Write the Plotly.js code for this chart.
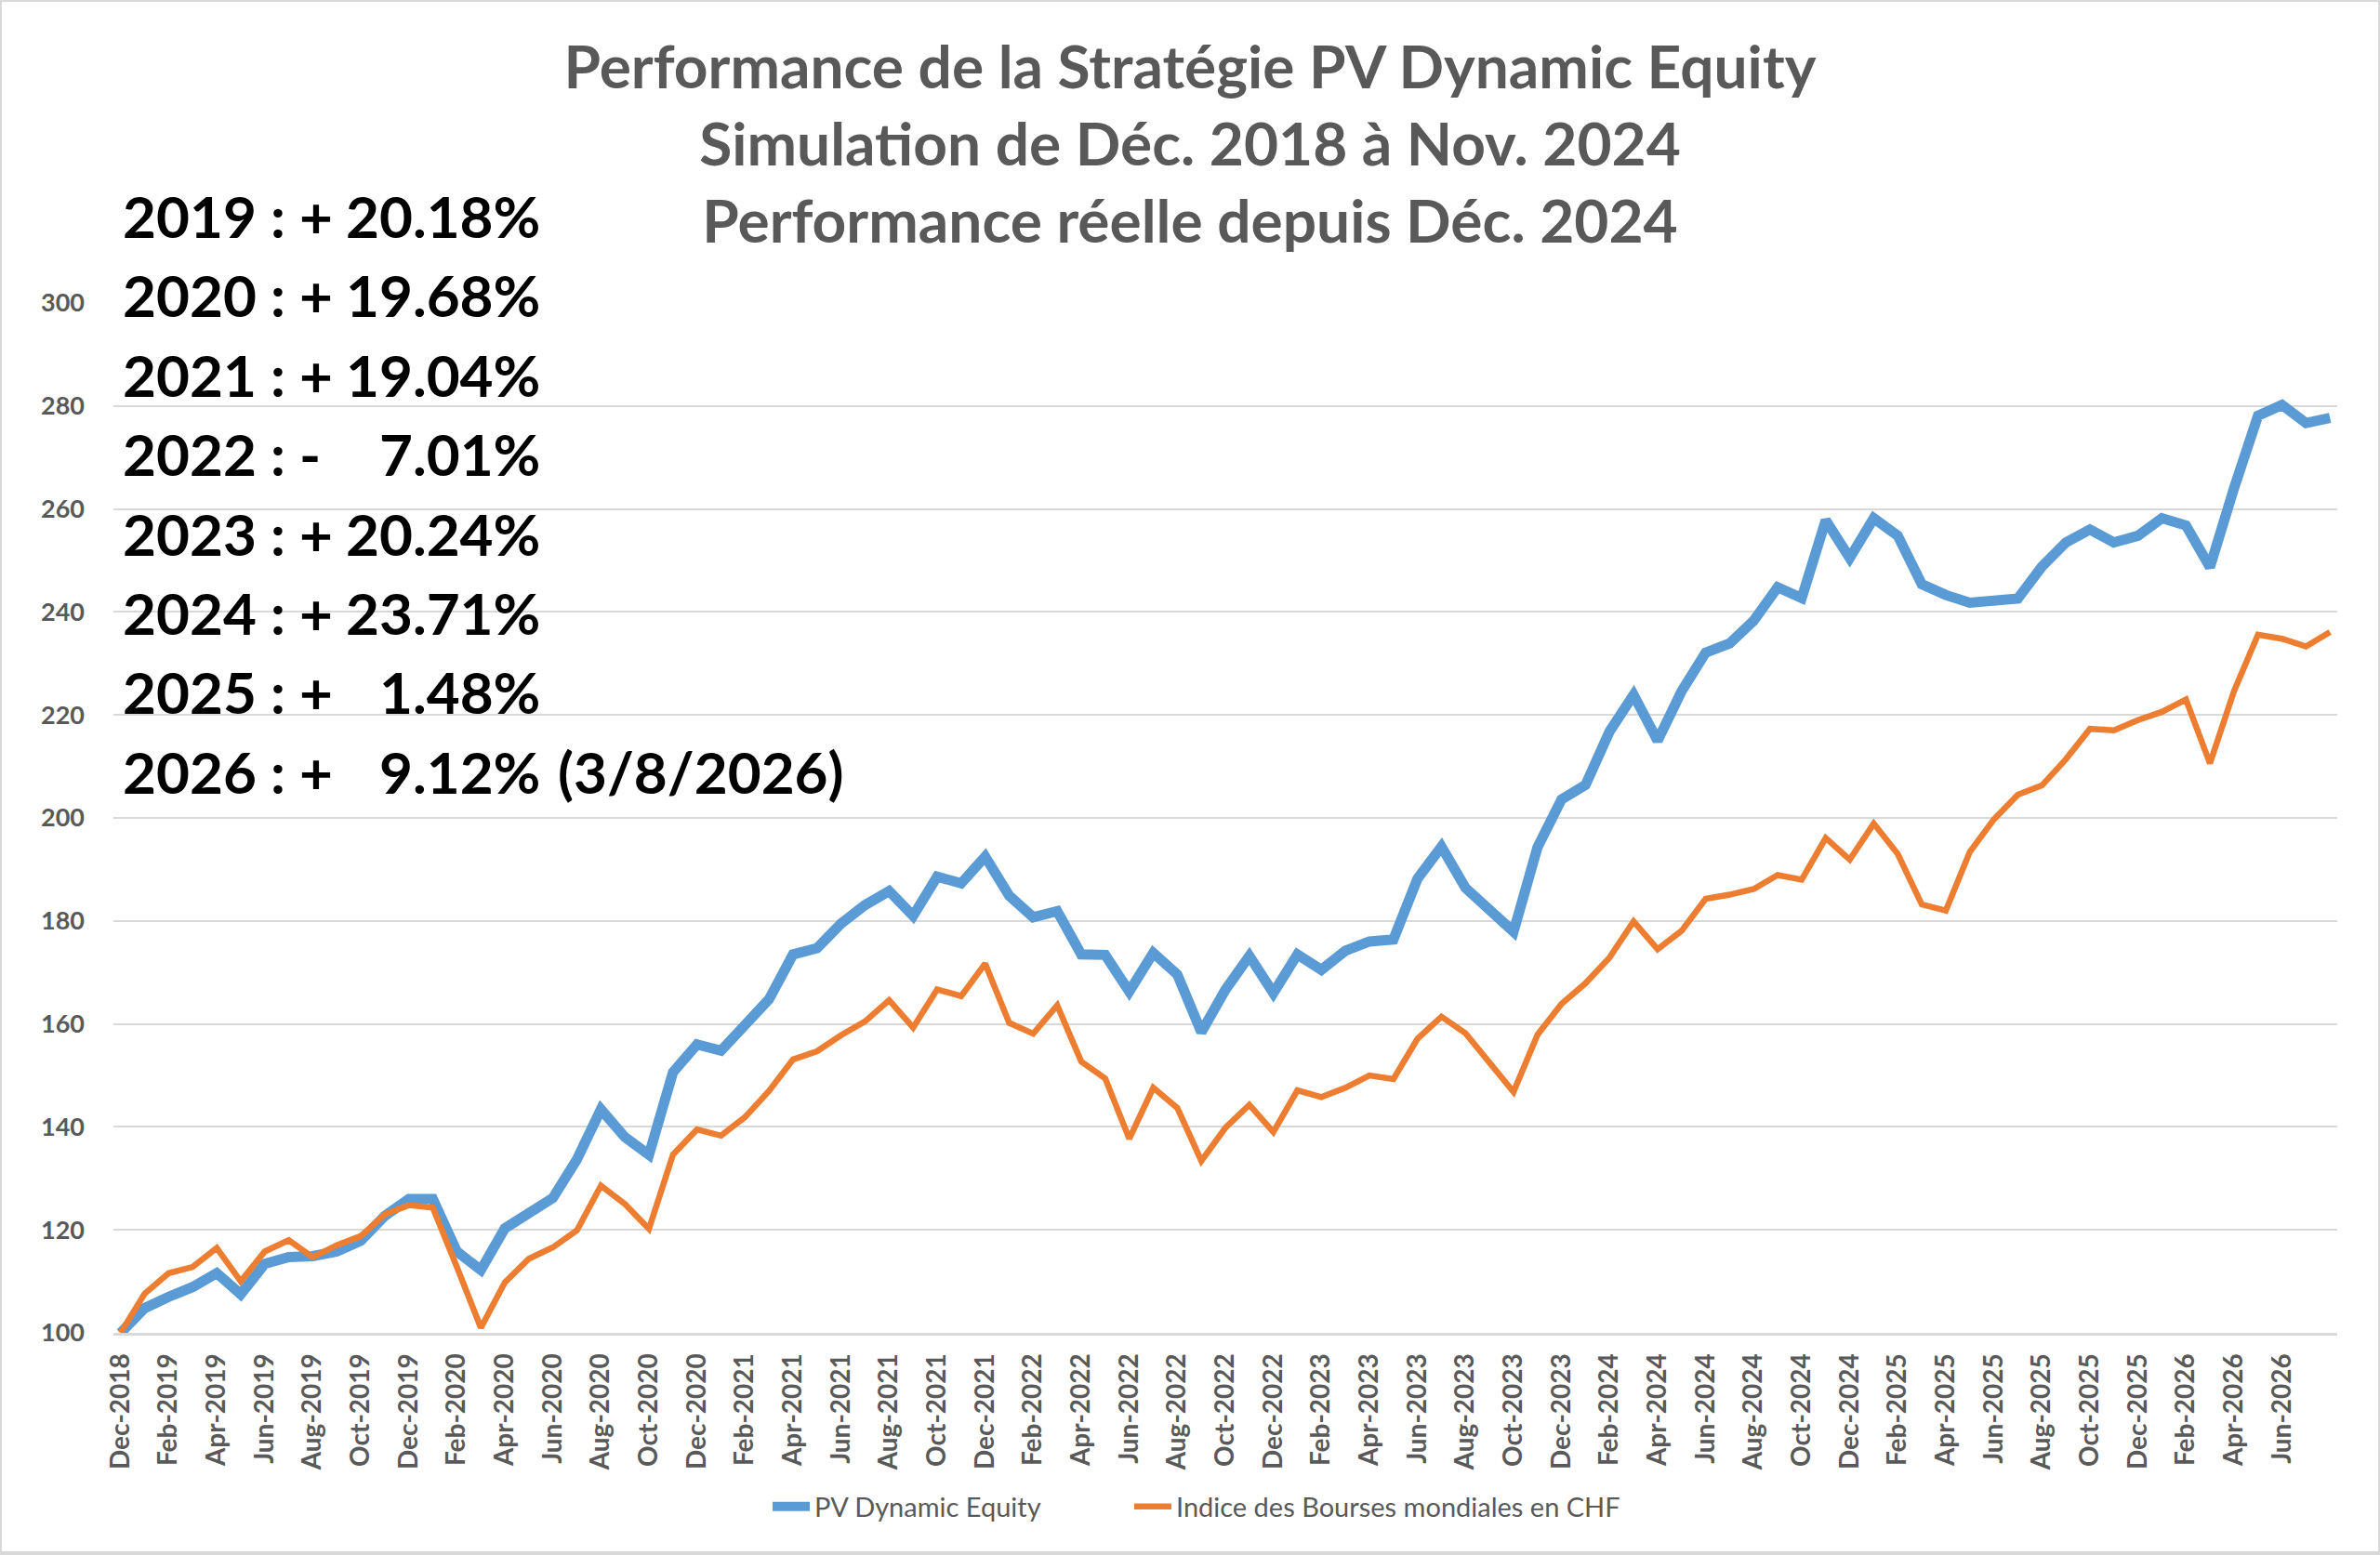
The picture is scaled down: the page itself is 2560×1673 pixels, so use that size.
<!DOCTYPE html>
<html>
<head>
<meta charset="utf-8">
<script src="https://cdn.plot.ly/plotly-3.0.1.min.js"></script>
<style>
  html, body { margin: 0; padding: 0; background: #fff; }
  #wrap { position: relative; width: 2560px; height: 1673px; }
  #chart { width: 2560px; height: 1673px; }
  #frame { position: absolute; left: 0; top: 0; width: 2560px; height: 1673px;
           box-sizing: border-box; border: 2px solid #d9d9d9; border-bottom-width: 4px;
           pointer-events: none; }
</style>
</head>
<body>
<div id="wrap">
  <div id="chart"></div>
  <div id="frame"></div>
</div>
<script>
// monthly values, Dec-2018 .. Aug-2026 (base 100)
var pvEquity = [
  100, 104.8, 107, 108.9, 111.6, 107.5, 113.4, 114.7, 114.9, 115.8, 117.9, 122.7,
  126, 126, 115.8, 112.2, 120.3, 123, 126.2, 133.7, 143.4, 138, 134.6, 150.6,
  156, 154.8, 159.6, 164.8, 173.5, 174.7, 179.5, 183.1, 185.8, 181, 188.6, 187.3,
  192.5, 184.9, 180.7, 181.9, 173.5, 173.4, 166.3, 173.8, 169.6, 158.4, 166.6, 173.2,
  166, 173.5, 170.5, 174.2, 176, 176.4, 188.2, 194.4, 186.4, 182.1, 177.9, 194.3,
  203.6, 206.4, 216.8, 223.9, 215, 224.6, 232.1, 233.9, 238.3, 244.8, 242.7, 257.8,
  250.5, 258.2, 254.8, 245.4, 243.3, 241.8, 242.4, 242.6, 248.8, 253.5, 256, 253.5,
  254.8, 258.2, 256.8, 248.7, 264, 278.1, 280.2, 276.7, 277.7
];
var worldIndex = [
  100, 107.6, 111.6, 112.8, 116.5, 110, 115.8, 118, 114.7, 117, 118.8, 123,
  124.8, 124.3, 112.8, 101, 109.8, 114.4, 116.6, 119.9, 128.6, 125, 120.2, 134.6,
  139.5, 138.3, 141.9, 147, 153.1, 154.7, 157.8, 160.5, 164.6, 159.3, 166.7, 165.4,
  171.7, 160.2, 158.1, 163.6, 152.7, 149.4, 137.7, 147.6, 143.7, 133.4, 139.8, 144.3,
  139, 147.1, 145.8, 147.6, 150, 149.3, 157.1, 161.4, 158.2, 152.5, 146.8, 157.9,
  163.9, 167.9, 172.9, 179.9, 174.5, 178.1, 184.3, 185.1, 186.2, 188.9, 188, 196.1,
  191.9, 198.9, 193, 183.2, 182, 193.4, 199.7, 204.5, 206.3, 211.4, 217.3, 217,
  219, 220.6, 223, 210.6, 224.6, 235.6, 234.8, 233.3, 236.1
];

var seriesNames = ['PV Dynamic Equity', 'Indice des Bourses mondiales en CHF'];
var monthNames = ['Jan','Feb','Mar','Apr','May','Jun','Jul','Aug','Sep','Oct','Nov','Dec'];

// annual performance box
var perfYears  = ['2019', '2020', '2021', '2022', '2023', '2024', '2025', '2026'];
var perfSigns  = ['+', '+', '+', '-', '+', '+', '+', '+'];
var perfValues = ['20.18%', '19.68%', '19.04%', '7.01%', '20.24%', '23.71%', '1.48%', '9.12%'];
var perfNote   = '(3/8/2026)';

var titleLines = [
  'Performance de la Stratégie PV Dynamic Equity',
  'Simulation de Déc. 2018 à Nov. 2024',
  'Performance réelle depuis Déc. 2024'
];

// category labels Dec-2018 onwards
var months = [];
for (var k = 0; k < pvEquity.length; k++) {
  var m = (11 + k) % 12;
  var yr = 2018 + Math.floor((11 + k) / 12);
  months.push(monthNames[m] + '-' + yr);
}
var tickLabels = months.filter(function (d, i) { return i % 2 === 0 && i <= 90; });

// pixel helpers for the plot box
var PL = 122, PR = 2514, PT = 326, PB = 1434;
function px(p) { return (p - PL) / (PR - PL); }
function py(p) { return (PB - p) / (PB - PT); }

var grey = '#595959';
var fam = 'Lato, "Open Sans", sans-serif';

var traces = [
  { x: months, y: pvEquity, name: seriesNames[0], type: 'scatter', mode: 'lines',
    line: { color: '#5B9BD5', width: 11 }, legend: 'legend' },
  { x: months, y: worldIndex, name: seriesNames[1], type: 'scatter', mode: 'lines',
    line: { color: '#ED7D31', width: 6.5 }, legend: 'legend2' }
];

var annotations = [];
perfYears.forEach(function (yr, i) {
  var yc = py(232 + i * 85.4);
  annotations.push({ xref: 'paper', yref: 'paper', x: px(130), y: yc, xanchor: 'left', yanchor: 'middle',
    text: yr + ' : ' + perfSigns[i], showarrow: false,
    font: { family: fam, size: 62, color: '#000', weight: 700 } });
  annotations.push({ xref: 'paper', yref: 'paper', x: px(583), y: yc, xanchor: 'right', yanchor: 'middle',
    text: perfValues[i], showarrow: false,
    font: { family: fam, size: 62, color: '#000', weight: 700 } });
});
annotations.push({ xref: 'paper', yref: 'paper', x: px(598), y: py(232 + 7 * 85.4), xanchor: 'left', yanchor: 'middle',
  text: perfNote, showarrow: false,
  font: { family: fam, size: 62, color: '#000', weight: 700 } });

var legendFont = { family: fam, size: 29, color: grey };

var layout = {
  width: 2560, height: 1673,
  paper_bgcolor: '#fff', plot_bgcolor: '#fff',
  margin: { l: PL, r: 2560 - PR, t: PT, b: 1673 - PB },
  title: {
    text: titleLines.join('<br>'),
    xref: 'container', x: 0.5, xanchor: 'center',
    yref: 'container', y: 1 - 95 / 1673, yanchor: 'top',
    font: { family: fam, size: 64, color: grey, weight: 700 }
  },
  xaxis: {
    type: 'category', range: [-0.3, 92.3],
    tickmode: 'array', tickvals: tickLabels, ticktext: tickLabels,
    tickangle: -90, showgrid: false, zeroline: false,
    showline: true, linecolor: '#d9d9d9', linewidth: 3,
    ticks: '', ticklabelstandoff: 8,
    tickfont: { family: fam, size: 28, color: grey, weight: 700 }
  },
  yaxis: {
    range: [100, 300], dtick: 20, tick0: 100,
    showgrid: true, gridcolor: '#d9d9d9', gridwidth: 2,
    zeroline: false, showline: false, ticks: '',
    ticklabelstandoff: 30,
    tickfont: { family: fam, size: 27, color: grey, weight: 700 }
  },
  showlegend: true,
  legend: {
    orientation: 'h', x: px(826), xanchor: 'left', y: py(1621), yanchor: 'middle',
    font: legendFont, itemwidth: 40
  },
  legend2: {
    orientation: 'h', x: px(1215), xanchor: 'left', y: py(1621), yanchor: 'middle',
    font: legendFont, itemwidth: 40
  },
  annotations: annotations
};

Plotly.newPlot('chart', traces, layout, { staticPlot: true, displayModeBar: false });
</script>
</body>
</html>
